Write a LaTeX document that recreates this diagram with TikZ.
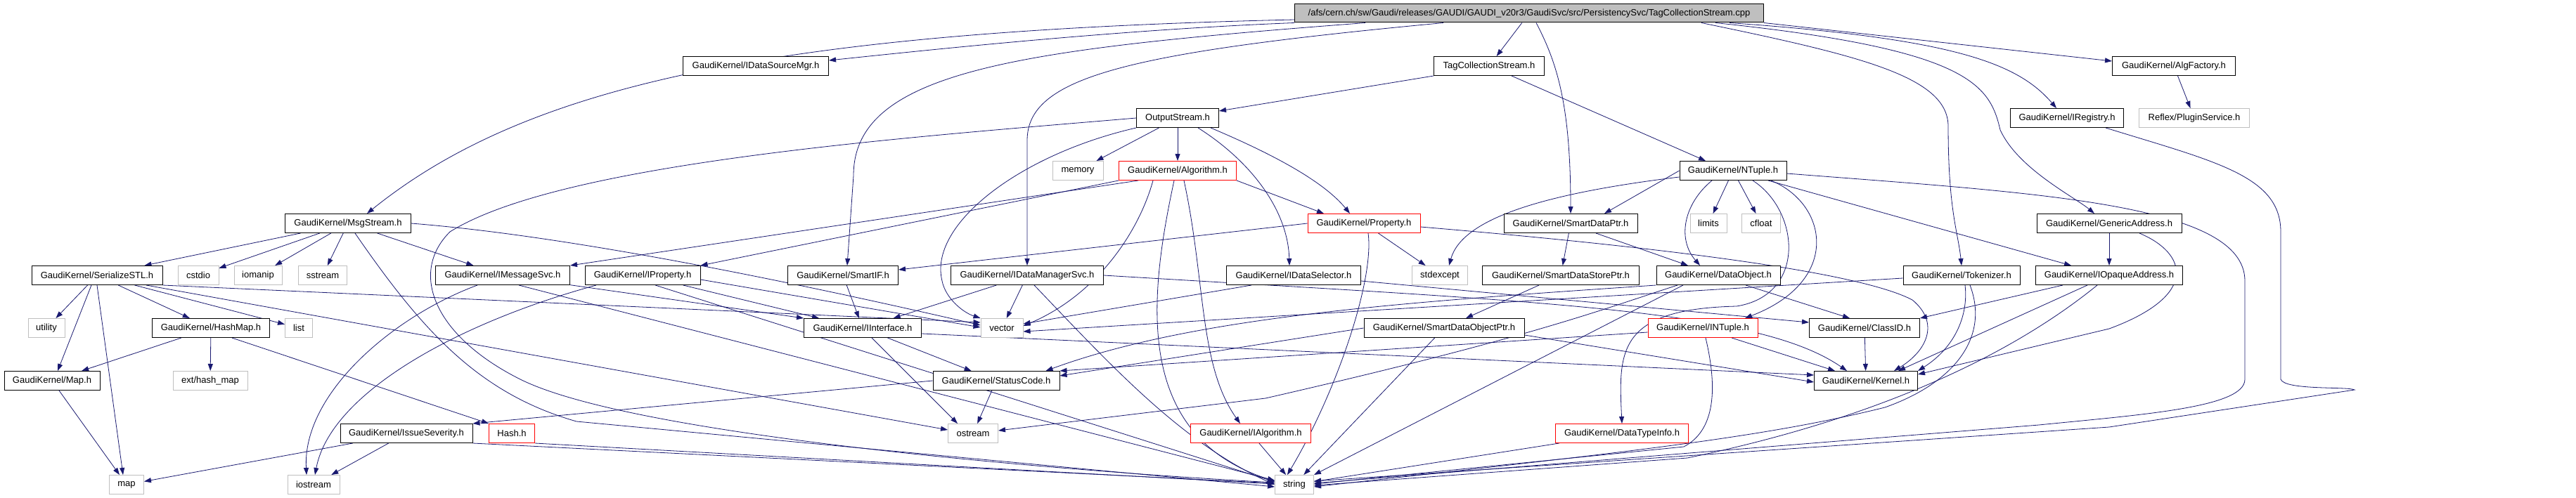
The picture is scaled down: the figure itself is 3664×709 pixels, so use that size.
\documentclass[tikz,border=0pt]{standalone}
\usepackage{fontspec}
\setmainfont{Liberation Sans}
\usetikzlibrary{arrows.meta}
\definecolor{edgec}{HTML}{191970}
\definecolor{grayb}{HTML}{BFBFBF}
\pgfdeclarelayer{back}
\pgfdeclarelayer{edges}
\pgfsetlayers{back,edges,main}
\begin{document}
\begin{tikzpicture}[x=1pt,y=-1pt,
  nb/.style={draw=black, line width=1pt, fill=white, minimum height=27pt, inner sep=0pt, font=\fontsize{13}{15}\selectfont},
  rb/.style={nb, draw=red},
  gb/.style={nb, draw=grayb},
  dep/.style={draw=edgec, line width=0.8pt, -{Triangle[length=10pt,width=7pt]}},
]
\begin{pgfonlayer}{back}
\fill[white] (0,0) rectangle (3664,709);
\end{pgfonlayer}
\useasboundingbox (0,0) rectangle (3664,709);

% row 0-3
\node[nb,fill=grayb,minimum width=667,minimum height=26] (root) at (2175,19) {/afs/cern.ch/sw/Gaudi/releases/GAUDI/GAUDI\_v20r3/GaudiSvc/src/PersistencySvc/TagCollectionStream.cpp};
\node[nb,minimum width=207] (idsm) at (1075,94) {GaudiKernel/IDataSourceMgr.h};
\node[nb,minimum width=157] (tcs) at (2118,94) {TagCollectionStream.h};
\node[nb,minimum width=175] (algf) at (3092,94) {GaudiKernel/AlgFactory.h};
\node[nb,minimum width=117] (out) at (1675,168) {OutputStream.h};
\node[nb,minimum width=161] (ireg) at (2940,168) {GaudiKernel/IRegistry.h};
\node[gb,minimum width=157] (plugin) at (3121,168) {Reflex/PluginService.h};
\node[gb,minimum width=72] (memory) at (1533,243) {memory};
\node[rb,minimum width=167] (alg) at (1675,243) {GaudiKernel/Algorithm.h};
\node[nb,minimum width=152] (ntuple) at (2465,243) {GaudiKernel/NTuple.h};
% row 4
\node[gb,minimum width=52] (limits) at (2430,318) {limits};
\node[gb,minimum width=55] (cfloat) at (2505,318) {cfloat};
\node[nb,minimum width=179] (msg) at (495,318) {GaudiKernel/MsgStream.h};
\node[rb,minimum width=160] (prop) at (1940,318) {GaudiKernel/Property.h};
\node[nb,minimum width=190] (sdp) at (2234,318) {GaudiKernel/SmartDataPtr.h};
\node[nb,minimum width=206] (gen) at (3000,318) {GaudiKernel/GenericAddress.h};
% row 5
\node[nb,minimum width=186] (serial) at (138,392) {GaudiKernel/SerializeSTL.h};
\node[gb,minimum width=58] (cstdio) at (282,392) {cstdio};
\node[gb,minimum width=68] (iomanip) at (367,392) {iomanip};
\node[gb,minimum width=69] (sstream) at (459,392) {sstream};
\node[nb,minimum width=191] (imsg) at (715,392) {GaudiKernel/IMessageSvc.h};
\node[nb,minimum width=164] (iprop) at (914,392) {GaudiKernel/IProperty.h};
\node[nb,minimum width=157] (smartif) at (1199,392) {GaudiKernel/SmartIF.h};
\node[nb,minimum width=217] (idms) at (1461,392) {GaudiKernel/IDataManagerSvc.h};
\node[nb,minimum width=191] (idsel) at (1840,392) {GaudiKernel/IDataSelector.h};
\node[gb,minimum width=79] (stdexcept) at (2048,392) {stdexcept};
\node[nb,minimum width=223] (sdsp) at (2220,392) {GaudiKernel/SmartDataStorePtr.h};
\node[nb,minimum width=176] (dobj) at (2444,392) {GaudiKernel/DataObject.h};
\node[nb,minimum width=166] (tok) at (2790,392) {GaudiKernel/Tokenizer.h};
\node[nb,minimum width=209] (iopaque) at (3000,392) {GaudiKernel/IOpaqueAddress.h};
% row 6
\node[gb,minimum width=52] (utility) at (66,467) {utility};
\node[nb,minimum width=167] (hashmap) at (300,467) {GaudiKernel/HashMap.h};
\node[gb,minimum width=39] (list) at (425,467) {list};
\node[nb,minimum width=167] (iinterface) at (1227,467) {GaudiKernel/IInterface.h};
\node[gb,minimum width=60] (vector) at (1425,467) {vector};
\node[nb,minimum width=228] (sdop) at (2054,467) {GaudiKernel/SmartDataObjectPtr.h};
\node[rb,minimum width=156] (intuple) at (2422,467) {GaudiKernel/INTuple.h};
\node[nb,minimum width=157] (classid) at (2652,467) {GaudiKernel/ClassID.h};
% row 7
\node[nb,minimum width=136] (mapdot) at (74,542) {GaudiKernel/Map.h};
\node[gb,minimum width=106] (exthash) at (299,542) {ext/hash\_map};
\node[nb,minimum width=180] (statuscode) at (1417,542) {GaudiKernel/StatusCode.h};
\node[nb,minimum width=147] (kernel) at (2654,542) {GaudiKernel/Kernel.h};
% row 8
\node[nb,minimum width=188] (issue) at (578,617) {GaudiKernel/IssueSeverity.h};
\node[rb,minimum width=65] (hash) at (728,617) {Hash.h};
\node[gb,minimum width=71] (ostream) at (1384,617) {ostream};
\node[rb,minimum width=171] (ialg) at (1779,617) {GaudiKernel/IAlgorithm.h};
\node[rb,minimum width=189] (dti) at (2307,617) {GaudiKernel/DataTypeInfo.h};
% row 9
\node[gb,minimum width=49] (map) at (180,690) {map};
\node[gb,minimum width=74] (iostream) at (446,690) {iostream};
\node[gb,minimum width=55] (string) at (1841,690) {string};

\begin{pgfonlayer}{edges}
% root
\draw[dep] ([yshift=-9pt]root.west) .. controls (1100,45) and (750,120) .. ([xshift=27pt]msg.north);
\draw[dep] (root.south west) .. controls (1600,42) and (1350,68) .. ([yshift=8pt]idsm.east);
\draw[dep] (root) -- (tcs);
\draw[dep] ([xshift=-233pt]root.south) .. controls (1450,70) and (1214,100) .. (1214,250) -- ([xshift=6pt]smartif.north);
\draw[dep] ([xshift=-122pt]root.south) .. controls (1600,75) and (1461,110) .. (1461,200) -- (idms.north);
\draw[dep] ([xshift=10pt]root.south) .. controls (2215,90) and (2234,150) .. (sdp.north);
\draw[dep] ([xshift=245pt]root.south) .. controls (2650,80) and (2771,110) .. (2771,180) .. controls (2771,300) and (2785,330) .. (tok.north);
\draw[dep] ([xshift=265pt]root.south) .. controls (2800,70) and (2830,120) .. (2845,185) .. controls (2870,240) and (2950,280) .. ([xshift=-21pt]gen.north);
\draw[dep] ([xshift=285pt]root.south) .. controls (2780,55) and (2870,90) .. ([xshift=-15pt]ireg.north);
\draw[dep] (root.south east) -- ([yshift=7pt]algf.west);
% tcs, algf, ireg
\draw[dep] (tcs.south west) -- ([yshift=10pt]out.east);
\draw[dep] ([xshift=32pt]tcs.south) -- ([xshift=-39pt]ntuple.north);
\draw[dep] (algf) -- (plugin);
\draw[dep] ([xshift=55pt]ireg.south) .. controls (3150,230) and (3244,250) .. (3244,330) -- (3244,540) .. controls (3250,556) and (3340,550) .. (3349,555) -- (3000,608) -- ([yshift=5pt]string.east);
% out
\draw[dep] (out) -- (memory);
\draw[dep] (out) -- (alg);
\draw[dep] ([xshift=47pt]out.south) .. controls (1800,215) and (1880,255) .. ([xshift=-20pt]prop.north);
\draw[dep] ([xshift=29pt]out.south) .. controls (1780,230) and (1832,300) .. ([xshift=-6pt]idsel.north);
\draw[dep] (out.south west) .. controls (1450,220) and (1320,320) .. (1340,400) .. controls (1345,425) and (1370,445) .. (vector.north west);
\draw[dep] (out.west) .. controls (1300,195) and (800,230) .. (640,330) .. controls (580,390) and (620,480) .. (740,540) .. controls (900,620) and (1500,670) .. ([yshift=3pt]string.west);
% alg
\draw[dep] (alg.south west) -- (iprop.north east);
\draw[dep] ([xshift=-56pt]alg.south) -- (imsg.north east);
\draw[dep] ([xshift=-35pt]alg.south) .. controls (1620,330) and (1560,420) .. ([yshift=3pt]vector.east);
\draw[dep] ([xshift=-5pt]alg.south) .. controls (1635,420) and (1610,620) .. ([yshift=5pt]string.west);
\draw[dep] ([xshift=9pt]alg.south) .. controls (1715,400) and (1705,520) .. ([xshift=-15pt]ialg.north);
\draw[dep] (alg.south east) -- ([xshift=-57pt]prop.north);
% ntuple
\draw[dep] (ntuple) -- (limits);
\draw[dep] (ntuple) -- (cfloat);
\draw[dep] ([yshift=-9pt]ntuple.west) .. controls (2200,275) and (2080,310) .. ([xshift=13pt]stdexcept.north);
\draw[dep] (ntuple.west) -- ([xshift=48pt]sdp.north);
\draw[dep] ([xshift=-30pt]ntuple.south) .. controls (2395,290) and (2385,340) .. ([xshift=-26pt]dobj.north);
\draw[dep] ([xshift=54pt]ntuple.south) .. controls (2600,290) and (2620,400) .. ([xshift=60pt]intuple.north);
\draw[dep] ([xshift=28pt]ntuple.south) .. controls (2560,300) and (2570,420) .. (2470,436) .. controls (2300,440) and (2302,500) .. (dti.north);
\draw[dep] ([xshift=50pt]ntuple.south) -- ([xshift=-54pt]iopaque.north);
\draw[dep] ([yshift=-4pt]ntuple.east) .. controls (2900,275) and (3193,290) .. (3193,400) -- (3193,540) .. controls (3193,580) and (3050,590) .. (2900,605) -- ([yshift=2pt]string.east);
% msg
\draw[dep] (msg) -- (serial);
\draw[dep] (msg) -- (cstdio);
\draw[dep] (msg) -- (iomanip);
\draw[dep] (msg) -- (sstream);
\draw[dep] (msg) -- (imsg);
\draw[dep] ([xshift=10pt]msg.south) .. controls (600,470) and (680,560) .. (820,600) -- ([yshift=-3pt]string.west);
\draw[dep] (msg.east) .. controls (800,335) and (1100,395) .. ([yshift=4pt]vector.west);
% serial
\draw[dep] (serial) -- (utility);
\draw[dep] ([xshift=-8pt]serial.south) -- ([xshift=8pt]mapdot.north);
\draw[dep] (serial.south) -- ([xshift=-5pt]map.north);
\draw[dep] (serial) -- (hashmap);
\draw[dep] (serial) -- (list);
\draw[dep] (serial.south east) -- ([yshift=8pt]vector.west);
\draw[dep] ([xshift=70pt]serial.south) -- ([yshift=5pt]ostream.west);
% hashmap, mapdot, issue, hash
\draw[dep] (hashmap) -- (mapdot);
\draw[dep] (hashmap) -- (exthash);
\draw[dep] ([xshift=30pt]hashmap.south) -- (hash.north west);
\draw[dep] (mapdot) -- (map);
\draw[dep] (issue) -- (map);
\draw[dep] (issue) -- (iostream);
\draw[dep] (issue.south east) -- ([yshift=2pt]string.west);
\draw[dep] (hash.south east) -- ([yshift=1pt]string.west);
% imsg
\draw[dep] (imsg) -- (iinterface.north west);
\draw[dep] ([xshift=-36pt]imsg.south) .. controls (560,450) and (430,560) .. ([xshift=-10pt]iostream.north);
\draw[dep] ([xshift=23pt]imsg.south) -- ([yshift=6pt]string.west);
% iprop
\draw[dep] (iprop) -- ([xshift=22pt]iinterface.north west);
\draw[dep] ([xshift=-66pt]iprop.south) .. controls (650,460) and (470,560) .. ([xshift=2pt]iostream.north);
\draw[dep] ([xshift=18pt]iprop.south) -- ([yshift=4pt]string.west);
\draw[dep] ([yshift=-6pt]iprop.east) -- ([yshift=1pt]vector.west);
% smartif, iinterface
\draw[dep] (smartif) -- (iinterface);
\draw[dep] (iinterface) -- (statuscode);
\draw[dep] ([xshift=13pt]iinterface.south) -- ([xshift=-22pt]ostream.north);
\draw[dep] ([yshift=-8pt]iinterface.east) -- ([yshift=8pt]kernel.west);
\draw[dep] (statuscode) -- (ostream);
\draw[dep] (statuscode.west) -- (issue.north east);
% idms
\draw[dep] (idms) -- (iinterface);
\draw[dep] (idms) -- (vector);
\draw[dep] ([xshift=10pt]idms.south) .. controls (1580,520) and (1680,630) .. (string.west);
\draw[dep] (idms.east) .. controls (2200,430) and (2500,440) .. ([xshift=-27pt]kernel.north);
% idsel
\draw[dep] ([xshift=-60pt]idsel.south) -- ([yshift=6pt]vector.east);
\draw[dep] ([yshift=-8pt]idsel.east) -- ([yshift=8pt]classid.west);
% sdp, sdsp, sdop
\draw[dep] (sdp) -- (sdsp);
\draw[dep] ([xshift=36pt]sdp.south) -- ([xshift=-43pt]dobj.north);
\draw[dep] (sdsp) -- (sdop);
\draw[dep] (sdop) -- (string);
\draw[dep] ([yshift=-10pt]sdop.east) -- ([yshift=-2pt]kernel.west);
\draw[dep] (sdop.west) -- ([yshift=7pt]statuscode.east);
% dobj
\draw[dep] ([xshift=39pt]dobj.south) -- ([xshift=-21pt]classid.north);
\draw[dep] (dobj.south west) .. controls (2000,430) and (1700,450) .. ([xshift=-20pt]statuscode.north east);
\draw[dep] ([xshift=-58pt]dobj.south) .. controls (2280,440) and (2180,480) .. (1800,567) -- ([yshift=4pt]ostream.east);
\draw[dep] ([xshift=-50pt]dobj.south) -- (string.north east);
% tok
\draw[dep] ([xshift=5pt]tok.south) .. controls (2800,450) and (2780,495) .. (kernel.north east);
\draw[dep] ([xshift=12pt]tok.south) .. controls (2830,480) and (2780,545) .. (2681,580) .. controls (2500,625) and (2300,645) .. ([yshift=-3pt]string.east);
\draw[dep] ([yshift=-4pt]tok.west) -- ([yshift=-5pt]vector.east);
% iopaque, gen
\draw[dep] ([xshift=-66pt]iopaque.south) -- (classid.north east);
\draw[dep] ([xshift=-31pt]iopaque.south) -- ([xshift=46pt]kernel.north);
\draw[dep] ([xshift=-17pt]iopaque.south) .. controls (2880,490) and (2700,590) .. (2400,652) -- ([yshift=-1pt]string.east);
\draw[dep] (gen) -- (iopaque);
\draw[dep] ([xshift=43pt]gen.south) .. controls (3110,360) and (3130,420) .. (3000,468) -- ([yshift=9pt]kernel.east);
% prop
\draw[dep] (prop.west) -- ([yshift=8pt]smartif.east);
\draw[dep] (prop) -- (stdexcept);
\draw[dep] ([xshift=6pt]prop.south) .. controls (1955,400) and (1900,560) .. ([xshift=-10pt]string.north);
\draw[dep] ([yshift=-5pt]prop.east) .. controls (2400,355) and (2650,390) .. (2720,427) .. controls (2760,460) and (2740,500) .. ([xshift=40pt]kernel.north);
% intuple
\draw[dep] ([xshift=4pt]intuple.south) .. controls (2440,540) and (2445,610) .. (2395,636) -- ([yshift=1pt]string.east);
\draw[dep] ([xshift=41pt]intuple.south) -- ([xshift=-44pt]kernel.north);
\draw[dep] ([yshift=-6pt]intuple.west) -- (statuscode.north east);
% misc
\draw[dep] (classid) -- (kernel);
\draw[dep] (dti) -- (string);
\draw[dep] (ialg) -- (string);
\end{pgfonlayer}
\end{tikzpicture}
\end{document}
